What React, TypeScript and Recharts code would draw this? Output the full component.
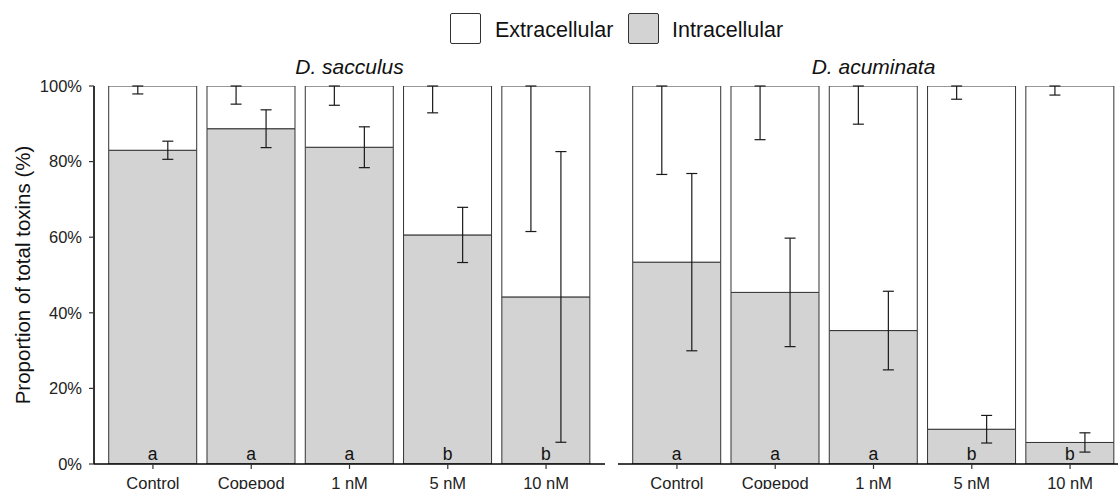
import React from 'react';
import { BarChart, Bar, XAxis, YAxis, ErrorBar, LabelList } from 'recharts';

// Treatments shared by both species panels
const treatments = ['Control', 'Copepod', '1 nM', '5 nM', '10 nM'];
const yTicks = [0, 20, 40, 60, 80, 100];

// D. sacculus: mean intracellular share (%) and SDs of each fraction
const sacculusIntracellular = [83.0, 88.7, 83.8, 60.6, 44.2];
const sacculusIntracellularSd = [2.4, 5.0, 5.4, 7.3, 38.45];
const sacculusExtracellularSd = [2.1, 4.8, 5.1, 7.1, 38.5];
const sacculusLetters = ['a', 'a', 'a', 'b', 'b'];

// D. acuminata
const acuminataIntracellular = [53.4, 45.4, 35.3, 9.2, 5.7];
const acuminataIntracellularSd = [23.45, 14.35, 10.4, 3.65, 2.55];
const acuminataExtracellularSd = [23.4, 14.2, 10.1, 3.5, 2.4];
const acuminataLetters = ['a', 'a', 'a', 'b', 'b'];

const FONT = '"Liberation Sans", Arial, Helvetica, sans-serif';
const GREY = '#d3d3d3';
const OUTLINE = '#333333';
const INK = '#1a1a1a';

function buildRows(intra: number[], intraSd: number[], extraSd: number[], letters: string[]) {
  return treatments.map((t, i) => {
    const extracellular = 100 - intra[i];
    return {
      treatment: t,
      intracellular: intra[i],
      extracellular,
      total: intra[i] + extracellular,
      intraErr: intraSd[i],
      extraErr: [extraSd[i], 0],
      letter: letters[i],
    };
  });
}

const sacculusRows = buildRows(sacculusIntracellular, sacculusIntracellularSd, sacculusExtracellularSd, sacculusLetters);
const acuminataRows = buildRows(acuminataIntracellular, acuminataIntracellularSd, acuminataExtracellularSd, acuminataLetters);

const PAD = { left: 9.8, right: 9.8 };

function Panel({ rows, showY, width, margin }: { rows: any[]; showY: boolean; width: number; margin: any }) {
  return (
    <BarChart width={width} height={489} data={rows} margin={margin} barGap={0} barCategoryGap="5%" style={{ fontFamily: FONT }}>
      <XAxis
        dataKey="treatment"
        padding={PAD}
        height={25}
        tickSize={5}
        tickMargin={8}
        axisLine={{ stroke: '#000', strokeWidth: 1.6 }}
        tickLine={{ stroke: OUTLINE, strokeWidth: 1.2 }}
        tick={{ fill: '#222', fontSize: 16.5, fontFamily: FONT }}
        interval={0}
      />
      <XAxis xAxisId="err" dataKey="treatment" padding={PAD} hide />
      <YAxis
        domain={[0, 100]}
        ticks={yTicks}
        allowDataOverflow
        hide={!showY}
        width={80}
        tickSize={5}
        tickMargin={7}
        tickFormatter={(v: number) => `${v}%`}
        axisLine={{ stroke: '#000', strokeWidth: 1.6 }}
        tickLine={{ stroke: OUTLINE, strokeWidth: 1.2 }}
        tick={{ fill: '#222', fontSize: 16.5, fontFamily: FONT }}
        label={{
          value: 'Proportion of total toxins (%)',
          angle: -90,
          position: 'insideLeft',
          offset: 9,
          style: { textAnchor: 'middle', fill: '#111', fontSize: 20.5, fontFamily: FONT },
        }}
      />
      <Bar dataKey="intracellular" stackId="s" fill={GREY} stroke={OUTLINE} strokeWidth={1} isAnimationActive={false}>
        <LabelList dataKey="letter" position="insideBottom" offset={4} fill="#111" fontSize={17.5} fontFamily={FONT} />
      </Bar>
      <Bar dataKey="extracellular" stackId="s" fill="#ffffff" stroke={OUTLINE} strokeWidth={1} isAnimationActive={false} />
      {/* error bars, dodged either side of each bar's centre */}
      <Bar xAxisId="err" dataKey="total" barSize={30} fill="none" stroke="none" isAnimationActive={false}>
        <ErrorBar dataKey="extraErr" width={5.5} stroke={INK} strokeWidth={1.2} direction="y" isAnimationActive={false} />
      </Bar>
      <Bar xAxisId="err" dataKey="intracellular" barSize={30} fill="none" stroke="none" isAnimationActive={false}>
        <ErrorBar dataKey="intraErr" width={5.5} stroke={INK} strokeWidth={1.2} direction="y" isAnimationActive={false} />
      </Bar>
    </BarChart>
  );
}

export default function App() {
  return (
    <div style={{ position: 'fixed', left: 0, top: 0, width: 1118, height: 489, overflow: 'hidden', background: '#fff', fontFamily: FONT }}>
      <div style={{ position: 'absolute', left: 0, top: 0 }}>
        <Panel rows={sacculusRows} showY width={620} margin={{ top: 86, right: 15, bottom: 0, left: 14 }} />
      </div>
      <div style={{ position: 'absolute', left: 618, top: 0 }}>
        <Panel rows={acuminataRows} showY={false} width={511} margin={{ top: 86, right: 0, bottom: 0, left: 0 }} />
      </div>
      <svg width={1118} height={80} style={{ position: 'absolute', left: 0, top: 0 }}>
        <rect x={450.5} y={13.5} width={30} height={30} rx={1.5} fill="#fff" stroke={OUTLINE} strokeWidth={1} />
        <text x={495} y={36.5} fontSize={21.5} fill="#111" fontFamily={FONT}>Extracellular</text>
        <rect x={628.5} y={13.5} width={30} height={30} rx={1.5} fill={GREY} stroke={OUTLINE} strokeWidth={1} />
        <text x={672} y={36.5} fontSize={21.5} fill="#111" fontFamily={FONT}>Intracellular</text>
        <text x={349.5} y={74} fontSize={21} fontStyle="italic" textAnchor="middle" fill="#111" fontFamily={FONT}>D. sacculus</text>
        <text x={873.5} y={74} fontSize={21} fontStyle="italic" textAnchor="middle" fill="#111" fontFamily={FONT}>D. acuminata</text>
      </svg>
    </div>
  );
}
